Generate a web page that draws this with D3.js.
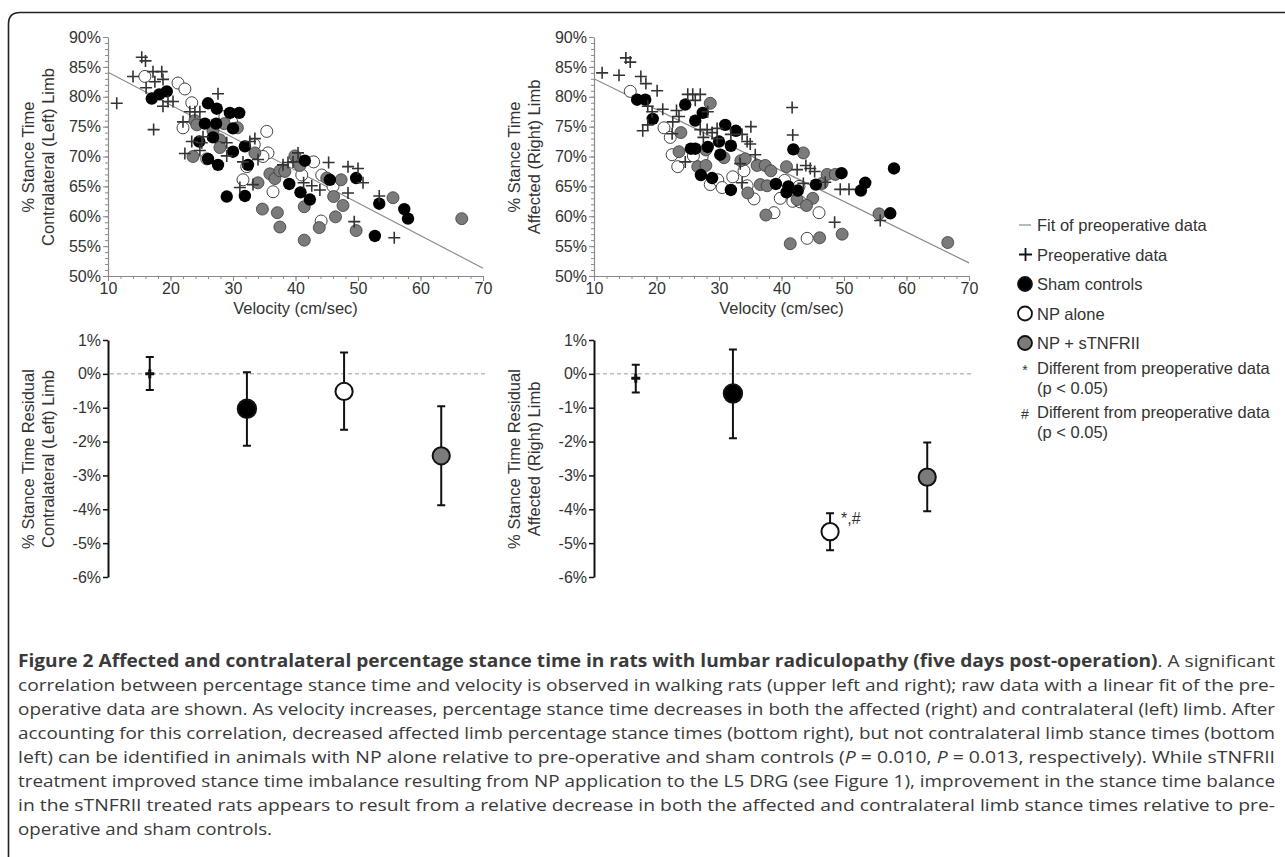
<!DOCTYPE html>
<html>
<head>
<meta charset="utf-8">
<script src="https://cdn.jsdelivr.net/npm/d3@7"></script>
<style>
	body { margin: 0; background: #fff; }
	svg text { font-family: "Liberation Sans", Arial, sans-serif; }
	.caption { font-family: "Open Sans", sans-serif !important; font-size: 17px; fill: #3a3a3a; }
</style>
</head>
<body>
<div id="fig"></div>
<script>
const container = "#fig";
const W = 1285, H = 857;

// scatter data: [velocity (cm/sec), % stance time]
const leftPre = [[11.4,78.9],[15.4,86.6],[16.0,86.0],[14.0,83.4],[17.2,84.2],[18.6,84.2],[18.8,82.9],[16.1,81.5],[17.5,82.5],[18.8,78.4],[19.6,79.2],[20.4,79.2],[17.3,74.5],[27.6,80.5],[22.0,75.8],[23.1,77.5],[23.9,77.5],[24.7,77.5],[23.4,72.5],[25.2,73.3],[25.0,72.3],[29.0,72.3],[24.7,71.0],[22.3,70.5],[29.0,70.1],[32.7,72.5],[33.5,73.0],[31.6,69.1],[34.0,69.5],[31.1,64.8],[33.2,65.3],[38.0,68.6],[38.8,69.0],[39.6,69.1],[40.4,70.6],[45.3,69.0],[41.3,65.6],[42.6,65.1],[43.9,64.4],[48.4,68.3],[50.0,68.0],[50.8,65.6],[48.4,63.9],[49.4,59.1],[53.4,63.4],[55.8,56.4]];
const leftSham = [[17.0,79.7],[18.2,80.4],[19.4,80.9],[26.0,78.9],[27.4,78.0],[29.5,77.3],[31.0,77.3],[25.5,75.5],[27.3,75.5],[30.0,74.7],[26.8,73.2],[24.6,72.5],[26.0,69.6],[27.6,68.6],[30.0,70.8],[31.9,71.7],[32.4,68.6],[29.0,63.3],[31.9,63.4],[39.0,65.4],[41.5,69.3],[40.8,64.0],[42.3,62.8],[45.5,66.1],[49.7,66.4],[53.4,62.1],[57.4,61.2],[58.0,59.6],[52.7,56.7]];
const leftNP = [[15.9,83.4],[21.2,82.3],[22.3,81.3],[23.4,79.0],[22.0,74.8],[29.8,75.8],[28.7,76.7],[25.8,69.6],[35.4,74.2],[35.6,70.6],[34.8,70.0],[32.2,68.3],[31.6,66.1],[36.4,64.1],[41.0,66.9],[42.9,69.1],[44.2,66.9],[44.1,59.2],[46.0,65.0],[33.4,72.0]];
const leftNPs = [[23.9,76.0],[24.2,75.3],[28.6,75.5],[30.7,74.8],[26.8,74.3],[27.9,72.8],[27.9,71.5],[23.6,70.0],[33.5,70.6],[34.0,65.6],[35.9,67.1],[36.7,66.3],[37.5,67.6],[39.9,70.1],[38.3,67.5],[34.7,61.2],[37.1,60.6],[37.5,58.2],[40.7,68.5],[41.4,61.6],[41.4,56.0],[45.0,66.4],[43.8,58.1],[46.1,63.3],[46.4,59.9],[47.3,66.1],[47.6,61.8],[49.7,57.6],[55.6,63.1],[66.6,59.6]];

const rightPre = [[11.3,84.0],[14.0,83.6],[15.1,86.5],[15.8,85.8],[17.5,83.4],[18.3,82.2],[20.1,81.0],[18.6,78.4],[19.3,77.5],[21.0,77.9],[17.8,74.3],[18.6,75.3],[22.5,73.8],[23.2,77.7],[23.6,76.7],[22.6,75.8],[25.0,80.4],[25.8,80.4],[27.0,80.4],[26.2,79.4],[28.2,77.5],[24.6,69.1],[27.0,74.5],[28.1,74.5],[28.9,74.0],[29.7,74.7],[29.7,73.0],[27.5,73.2],[31.9,73.7],[33.7,73.7],[34.5,72.5],[35.1,75.0],[35.8,70.3],[35.0,72.1],[33.4,68.8],[33.7,65.6],[41.7,78.2],[41.8,73.6],[43.9,68.5],[44.6,68.0],[45.3,67.5],[47.0,65.7],[49.4,64.5],[50.8,64.5],[43.5,65.5],[48.5,59.0],[55.8,59.3],[42.5,67.8]];
const rightSham = [[16.9,79.5],[18.2,79.5],[19.4,76.3],[24.6,78.7],[27.4,77.3],[26.2,76.0],[25.5,71.3],[26.2,71.3],[27.1,66.9],[28.2,71.6],[28.9,66.4],[30.0,72.5],[31.0,75.3],[31.9,71.8],[32.7,74.3],[30.2,70.3],[31.9,64.4],[39.1,65.4],[41.9,71.2],[41.1,65.0],[42.6,64.3],[45.5,65.3],[49.6,67.2],[53.4,65.6],[52.7,64.3],[57.4,60.5],[58.0,68.0],[40.8,64.0]];
const rightNP = [[15.8,80.9],[21.2,74.8],[22.2,73.2],[22.5,70.3],[23.4,68.3],[27.3,70.0],[25.9,70.1],[28.6,65.3],[29.8,66.1],[30.5,64.8],[32.2,66.6],[34.0,67.6],[34.5,65.1],[35.6,62.9],[38.8,60.6],[40.5,66.0],[41.8,62.5],[43.0,62.4],[46.0,60.6],[44.1,56.3],[42.8,65.0],[39.8,63.0]];
const rightNPs = [[28.6,78.9],[23.9,74.0],[23.6,70.8],[26.6,68.3],[27.9,68.5],[27.9,71.1],[30.8,69.8],[33.5,69.3],[34.2,69.6],[34.6,63.9],[36.1,68.5],[36.6,65.3],[37.7,65.1],[37.4,68.5],[38.3,67.6],[37.5,60.2],[40.8,68.3],[42.5,62.8],[45.0,63.0],[46.5,65.5],[47.3,67.0],[48.6,67.0],[49.7,57.0],[46.1,56.4],[41.4,55.4],[44.0,61.8],[55.6,60.4],[66.6,55.6],[43.5,70.6]];

// linear fit of the preoperative data, end points
const fitVel = [10, 70];
const fitLeft = [84.1, 51.3];
const fitRight = [83.0, 52.2];

// residuals: mean, upper, lower (%)
const groups = ["Preoperative", "Sham", "NP alone", "NP + sTNFRII"];
const resLeftMean = [0.0, -1.03, -0.52, -2.42];
const resLeftHi = [0.50, 0.05, 0.63, -0.96];
const resLeftLo = [-0.48, -2.12, -1.65, -3.88];
const resRightMean = [-0.13, -0.58, -4.66, -3.05];
const resRightHi = [0.27, 0.72, -4.12, -2.03];
const resRightLo = [-0.55, -1.90, -5.21, -4.06];

const yTicksTop = [50, 55, 60, 65, 70, 75, 80, 85, 90];
const xTicksTop = [10, 20, 30, 40, 50, 60, 70];
const yTicksBottom = [1, 0, -1, -2, -3, -4, -5, -6];

const c_text = "#333",
	c_axis = "#8a8a8a",
	c_plus = "#333",
	c_gray = "#7b7b7b",
	c_fit = "#8c8c8c";

const tick_fs = 16, title_fs = 16.5;

let svg = d3.select(container)
	.append("svg")
	.attr("width", W)
	.attr("height", H);

// frame
svg.append("path")
	.attr("d", "M8.5," + H + " V24 Q8.5,12.5 20,12.5 H" + W)
	.attr("fill", "none")
	.attr("stroke", "#222")
	.attr("stroke-width", 1.6);

function scatterPanel(x0, pre, sham, np, nps, fit, title2) {
	let x = d3.scaleLinear().domain([10, 70]).range([x0, x0 + 375]);
	let y = d3.scaleLinear().domain([50, 90]).range([276, 37]);
	let g = svg.append("g");

	// minor ticks
	g.append("g")
		.attr("transform", "translate(" + x0 + ",0)")
		.call(d3.axisLeft(y).tickValues(d3.range(50, 91, 1)).tickSize(3).tickFormat(""))
		.call(a => a.select(".domain").remove());
	g.append("g")
		.attr("transform", "translate(0,276)")
		.call(d3.axisBottom(x).tickValues(d3.range(10, 71, 2)).tickSize(3).tickFormat(""))
		.call(a => a.select(".domain").remove());

	let ya = g.append("g")
		.attr("transform", "translate(" + x0 + ",0)")
		.call(d3.axisLeft(y).tickValues(yTicksTop).tickSize(5).tickSizeOuter(0).tickPadding(2).tickFormat(d => d + "%"));
	let xa = g.append("g")
		.attr("transform", "translate(0,276)")
		.call(d3.axisBottom(x).tickValues(xTicksTop).tickSize(5).tickSizeOuter(0).tickPadding(2));
	[ya, xa].forEach(a => {
		a.selectAll("text").attr("font-size", tick_fs).attr("fill", c_text).attr("font-family", "Liberation Sans, Arial");
	});
	g.selectAll(".tick line").attr("stroke", c_axis);
	g.selectAll(".domain").attr("stroke", c_axis).attr("stroke-width", 1.2);

	// fit line
	g.append("line")
		.attr("x1", x(fitVel[0])).attr("y1", y(fit[0]))
		.attr("x2", x(fitVel[1])).attr("y2", y(fit[1]))
		.attr("stroke", c_fit).attr("stroke-width", 1.2);

	let pts = g.append("g");
	pts.selectAll(".np").data(np).enter().append("circle")
		.attr("cx", d => x(d[0])).attr("cy", d => y(d[1])).attr("r", 6)
		.attr("fill", "#fff").attr("stroke", "#444").attr("stroke-width", 1);
	pts.selectAll(".nps").data(nps).enter().append("circle")
		.attr("cx", d => x(d[0])).attr("cy", d => y(d[1])).attr("r", 6)
		.attr("fill", c_gray).attr("stroke", "#3a3a3a").attr("stroke-width", 0.8);
	pts.selectAll(".sham").data(sham).enter().append("circle")
		.attr("cx", d => x(d[0])).attr("cy", d => y(d[1])).attr("r", 6.2)
		.attr("fill", "#000");
	pts.selectAll(".pre").data(pre).enter().append("path")
		.attr("d", d => "M" + (x(d[0]) - 6) + "," + y(d[1]) + "h12M" + x(d[0]) + "," + (y(d[1]) - 6) + "v12")
		.attr("stroke", c_plus).attr("stroke-width", 1.6).attr("fill", "none");

	// titles
	g.append("text")
		.attr("x", x(40)).attr("y", 314)
		.attr("text-anchor", "middle").attr("font-size", title_fs).attr("fill", c_text)
		.text("Velocity (cm/sec)");
	let t = g.append("text")
		.attr("transform", "translate(" + (x0 - 74) + ",157) rotate(-90)")
		.attr("text-anchor", "middle").attr("font-size", title_fs).attr("fill", c_text);
	t.append("tspan").attr("x", 0).attr("y", 0).text("% Stance Time");
	t.append("tspan").attr("x", 0).attr("y", 20).text(title2);
}

function residualPanel(x0, mean, hi, lo, title2, note) {
	let x = d3.scalePoint().domain(groups).range([x0, x0 + 375]).padding(0.43);
	let y = d3.scaleLinear().domain([-6, 1]).range([577, 340]);
	let g = svg.append("g");

	// zero reference
	g.append("line")
		.attr("x1", x0 + 2).attr("x2", x0 + 378)
		.attr("y1", y(0)).attr("y2", y(0))
		.attr("stroke", "#999").attr("stroke-width", 1).attr("stroke-dasharray", "4,3");

	let ya = g.append("g")
		.attr("transform", "translate(" + x0 + ",0)")
		.call(d3.axisLeft(y).tickValues(yTicksBottom).tickSize(5).tickSizeOuter(0).tickPadding(2).tickFormat(d => d + "%"));
	ya.selectAll("text").attr("font-size", tick_fs).attr("fill", c_text).attr("font-family", "Liberation Sans, Arial");
	ya.selectAll(".tick line").attr("stroke", "#111").attr("stroke-width", 1.5);
	ya.select(".domain").attr("stroke", "#111").attr("stroke-width", 2);

	let rows = groups.map((k, i) => ({ k: k, i: i, m: mean[i], hi: hi[i], lo: lo[i] }));
	let eb = g.selectAll(".eb").data(rows).enter().append("g");
	eb.append("line")
		.attr("x1", d => x(d.k)).attr("x2", d => x(d.k))
		.attr("y1", d => y(d.hi)).attr("y2", d => y(d.lo))
		.attr("stroke", "#111").attr("stroke-width", 2);
	eb.append("path")
		.attr("d", d => "M" + (x(d.k) - 4) + "," + y(d.hi) + "h8M" + (x(d.k) - 4) + "," + y(d.lo) + "h8")
		.attr("stroke", "#111").attr("stroke-width", 2);

	eb.filter(d => d.i > 0).append("circle")
		.attr("cx", d => x(d.k)).attr("cy", d => y(d.m))
		.attr("r", d => d.i == 1 ? 9.2 : 8.6)
		.attr("fill", d => ["", "#000", "#fff", c_gray][d.i])
		.attr("stroke", "#111").attr("stroke-width", 2);
	eb.filter(d => d.i == 0).append("path")
		.attr("d", d => "M" + (x(d.k) - 4.5) + "," + y(d.m) + "h9M" + x(d.k) + "," + (y(d.m) - 4.5) + "v9")
		.attr("stroke", "#111").attr("stroke-width", 3);

	if (note) {
		g.append("text")
			.attr("x", x(groups[2]) + 11).attr("y", y(mean[2]) - 8)
			.attr("font-size", 16).attr("fill", c_text)
			.text(note);
	}

	let t = g.append("text")
		.attr("transform", "translate(" + (x0 - 74) + ",459) rotate(-90)")
		.attr("text-anchor", "middle").attr("font-size", title_fs).attr("fill", c_text);
	t.append("tspan").attr("x", 0).attr("y", 0).text("% Stance Time Residual");
	t.append("tspan").attr("x", 0).attr("y", 20).text(title2);
}

scatterPanel(108, leftPre, leftSham, leftNP, leftNPs, fitLeft, "Contralateral (Left) Limb");
scatterPanel(594, rightPre, rightSham, rightNP, rightNPs, fitRight, "Affected (Right) Limb");
residualPanel(108, resLeftMean, resLeftHi, resLeftLo, "Contralateral (Left) Limb", null);
residualPanel(594, resRightMean, resRightHi, resRightLo, "Affected (Right) Limb", "*,#");

// legend
const legendLabels = ["Fit of preoperative data", "Preoperative data", "Sham controls", "NP alone", "NP + sTNFRII"];
const legendNotes = [["*", "Different from preoperative data", "(p < 0.05)"], ["#", "Different from preoperative data", "(p < 0.05)"]];
let lg = svg.append("g").attr("transform", "translate(1026,0)");
let ly = d3.scalePoint().domain(legendLabels).range([225, 343]);
legendLabels.forEach((lab, i) => {
	let yy = ly(lab);
	if (i == 0) {
		lg.append("line").attr("x1", -7).attr("x2", 5).attr("y1", yy).attr("y2", yy)
			.attr("stroke", c_fit).attr("stroke-width", 1.2);
	} else if (i == 1) {
		lg.append("path").attr("d", "M-7," + yy + "h13M-0.5," + (yy - 6.5) + "v13")
			.attr("stroke", "#111").attr("stroke-width", 1.8);
	} else {
		lg.append("circle").attr("cx", -1).attr("cy", yy).attr("r", 7)
			.attr("fill", ["", "", "#000", "#fff", c_gray][i])
			.attr("stroke", "#111").attr("stroke-width", 1.8);
	}
	lg.append("text").attr("x", 11).attr("y", yy + 6)
		.attr("font-size", title_fs).attr("fill", c_text).text(lab);
});
legendNotes.forEach((n, i) => {
	let yy = 372 + i * 44;
	lg.append("text").attr("x", -1).attr("y", yy + 3).attr("text-anchor", "middle")
		.attr("font-size", 14).attr("fill", c_text).text(n[0]);
	lg.append("text").attr("x", 11).attr("y", yy + 2)
		.attr("font-size", title_fs).attr("fill", c_text).text(n[1]);
	lg.append("text").attr("x", 11).attr("y", yy + 22)
		.attr("font-size", title_fs).attr("fill", c_text).text(n[2]);
});

// caption
const captionLines = [
	[["b", "Figure 2 Affected and contralateral percentage stance time in rats with lumbar radiculopathy (five days post-operation)"], ["", ". A significant"]],
	[["", "correlation between percentage stance time and velocity is observed in walking rats (upper left and right); raw data with a linear fit of the pre-"]],
	[["", "operative data are shown. As velocity increases, percentage stance time decreases in both the affected (right) and contralateral (left) limb. After"]],
	[["", "accounting for this correlation, decreased affected limb percentage stance times (bottom right), but not contralateral limb stance times (bottom"]],
	[["", "left) can be identified in animals with NP alone relative to pre-operative and sham controls ("], ["i", "P"], ["", " = 0.010, "], ["i", "P"], ["", " = 0.013, respectively). While sTNFRII"]],
	[["", "treatment improved stance time imbalance resulting from NP application to the L5 DRG (see Figure 1), improvement in the stance time balance"]],
	[["", "in the sTNFRII treated rats appears to result from a relative decrease in both the affected and contralateral limb stance times relative to pre-"]],
	[["", "operative and sham controls."]]
];
const captionWidths = [1257, 1257, 1257, 1257, 1257, 1257, 1257, 254];
let cap = svg.append("g");
captionLines.forEach((line, i) => {
	let t = cap.append("text")
		.attr("class", "caption")
		.attr("x", 18).attr("y", 667 + i * 24)
		.attr("textLength", captionWidths[i])
		.attr("lengthAdjust", "spacingAndGlyphs");
	line.forEach(seg => {
		let s = t.append("tspan").text(seg[1]);
		if (seg[0] == "b") s.attr("font-weight", "bold");
		if (seg[0] == "i") s.attr("font-style", "italic");
	});
});
</script>
</body>
</html>
